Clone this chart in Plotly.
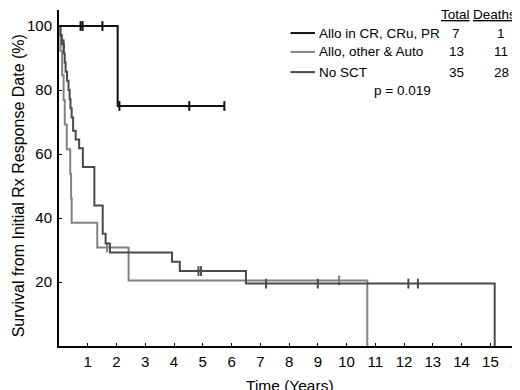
import plotly.graph_objects as go
import numpy as np

# ---- data ----
allo_cr_times = [0, 2.04, 5.75]
allo_cr_surv = [100, 75, 75]
allo_cr_cens = [0.75, 0.82, 1.51, 2.1, 4.53, 5.75]

allo_other_times = [0, 0.05, 0.11, 0.16, 0.2, 0.27, 0.39, 0.42, 0.44, 1.33, 2.42, 10.72]
allo_other_surv = [100, 92.3, 84.6, 76.9, 69.2, 61.5, 53.8, 46.2, 38.5, 30.8, 20.5, 0]
allo_other_cens = [1.67, 9.74]

no_sct_times = [0, 0.05, 0.1, 0.17, 0.2, 0.23, 0.28, 0.33, 0.37, 0.4, 0.44, 0.49, 0.58,
                0.7, 0.83, 1.23, 1.52, 1.62, 1.77, 3.93, 4.2, 6.5, 15.15]
no_sct_surv = [100, 97.1, 94.3, 91.4, 88.6, 85.7, 82.9, 80.0, 77.1, 74.3, 71.4, 67.3, 64.5,
               61.8, 55.9, 43.9, 35.1, 32.0, 29.2, 26.3, 23.4, 19.5, 0]
no_sct_cens = [0.16, 4.85, 4.94, 7.2, 9.0, 12.15, 12.48]

group_names = ["Allo in CR, CRu, PR", "Allo, other & Auto", "No SCT"]
totals = [7, 13, 35]
deaths = [1, 11, 28]
p_value = "p = 0.019"

x_ticks = list(range(1, 17))
y_ticks = [20, 40, 60, 80, 100]

colors = ["#111111", "#828282", "#4a4a4a"]
FONT = "Arial, Liberation Sans, sans-serif"


def step_at(times, surv, t):
    idx = np.searchsorted(np.array(times), t, side="right") - 1
    return surv[max(idx, 0)]


fig = go.Figure()
series = [
    (allo_cr_times, allo_cr_surv, allo_cr_cens),
    (allo_other_times, allo_other_surv, allo_other_cens),
    (no_sct_times, no_sct_surv, no_sct_cens),
]
order = [1, 2, 0]
for i in order:
    times, surv, cens = series[i]
    fig.add_trace(go.Scatter(x=times, y=surv, mode="lines", line_shape="hv",
                             line=dict(color=colors[i], width=2), showlegend=False,
                             cliponaxis=False))
    fig.add_trace(go.Scatter(x=cens, y=[step_at(times, surv, c) for c in cens],
                             mode="markers", showlegend=False, cliponaxis=False,
                             marker=dict(symbol="line-ns", size=7,
                                         line=dict(color=colors[i], width=2))))

# custom legend
LS = 13.5
row_y = [97.8, 91.9, 85.6]
for i, name in enumerate(group_names):
    fig.add_shape(type="line", x0=8.05, x1=8.9, y0=row_y[i], y1=row_y[i],
                  line=dict(color=colors[i], width=2))
    fig.add_annotation(x=8.97, y=row_y[i], text=name, showarrow=False,
                       xanchor="left", yanchor="middle", font=dict(size=LS))
    fig.add_annotation(x=13.82, y=row_y[i], text=str(totals[i]), showarrow=False,
                       xanchor="center", yanchor="middle", font=dict(size=LS))
    fig.add_annotation(x=15.38, y=row_y[i], text=str(deaths[i]), showarrow=False,
                       xanchor="center", yanchor="middle", font=dict(size=LS))
fig.add_annotation(x=13.8, y=103.6, text="<u>Total</u>", showarrow=False,
                   xanchor="center", yanchor="middle", font=dict(size=LS))
fig.add_annotation(x=15.95, y=103.6, text="<u>Deaths</u>", showarrow=False,
                   xanchor="right", yanchor="middle", font=dict(size=LS))
fig.add_annotation(x=11.94, y=80.0, text=p_value, showarrow=False,
                   xanchor="center", yanchor="middle", font=dict(size=LS))

# axis titles
fig.add_annotation(xref="paper", yref="paper", x=0.5, y=-0.086, yanchor="top",
                   text="Time (Years)", showarrow=False, font=dict(size=15.5))
fig.add_annotation(xref="paper", yref="paper", x=-0.1118, y=0.478, textangle=-90,
                   text="Survival from Initial Rx Response Date (%)", showarrow=False,
                   xanchor="left", yanchor="middle", font=dict(size=16))

# the page body adds an 8px offset, so margins are reduced by 8px
fig.update_layout(
    width=520, height=390,
    margin=dict(l=51, r=8, t=2, b=52),
    paper_bgcolor="white", plot_bgcolor="white",
    font=dict(family=FONT, color="black", size=15),
    xaxis=dict(range=[0, 16.03], tickvals=x_ticks, ticktext=[str(v) for v in x_ticks],
               showline=True, linecolor="black", linewidth=2, ticks="inside",
               ticklen=3, tickcolor="black", showgrid=False, zeroline=False,
               ticklabelstandoff=1, automargin=False),
    yaxis=dict(range=[0, 105], tickvals=y_ticks, showline=True, linecolor="black",
               linewidth=2, ticks="inside", ticklen=3, tickcolor="black",
               showgrid=False, zeroline=False, ticklabelstandoff=2, automargin=False),
)

fig.write_html("out.html")
